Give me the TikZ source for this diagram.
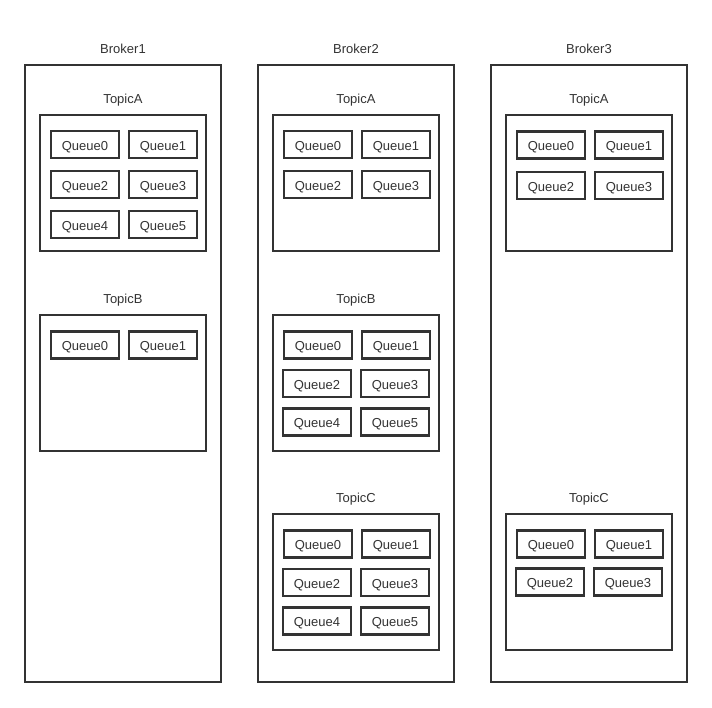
\documentclass[tikz,border=0pt]{standalone}
\usepackage{fontspec}
\setmainfont{Liberation Sans}
\definecolor{ink}{HTML}{333333}
\begin{document}
\begin{tikzpicture}[x=1pt,y=-1pt,
  every node/.style={font=\fontsize{13}{15}\selectfont, text=ink, text height=11pt, text depth=0pt},
  brokerbox/.style={draw=ink, line width=1.5pt, minimum width=196pt, minimum height=617pt, inner sep=0pt},
  topicbox/.style={draw=ink, line width=1.5pt, minimum width=166pt, minimum height=136pt, inner sep=0pt},
  queuebox/.style={draw=ink, line width=2.2pt, minimum width=68pt, minimum height=27pt, inner sep=0pt},
  caption/.style={inner sep=0pt}]
\useasboundingbox (0,0) rectangle (712,707);
\fill[white] (0,0) rectangle (712,707);

% Broker1: TopicA (6 queues), TopicB (2 queues)
\begin{scope}[xshift=25pt, name prefix=b1-]
  \node[caption] (label) at (98,47.5) {Broker1};
  \node[brokerbox] (box) at (98,373.5) {};
  \node[caption] (tA) at (98,97.5) {TopicA};
  \node[topicbox] (A) at (98,183) {};
  \node[queuebox] (A0) at (60,144.5) {Queue0};
  \node[queuebox] (A1) at (138,144.5) {Queue1};
  \node[queuebox] (A2) at (60,184.5) {Queue2};
  \node[queuebox] (A3) at (138,184.5) {Queue3};
  \node[queuebox] (A4) at (60,224.5) {Queue4};
  \node[queuebox] (A5) at (138,224.5) {Queue5};
  \node[caption] (tB) at (98,297.5) {TopicB};
  \node[topicbox] (B) at (98,383) {};
  \node[queuebox] (B0) at (60,345) {Queue0};
  \node[queuebox] (B1) at (138,345) {Queue1};
\end{scope}

% Broker2: TopicA (4 queues), TopicB (6 queues), TopicC (6 queues)
\begin{scope}[xshift=258pt, name prefix=b2-]
  \node[caption] (label) at (98,47.5) {Broker2};
  \node[brokerbox] (box) at (98,373.5) {};
  \node[caption] (tA) at (98,97.5) {TopicA};
  \node[topicbox] (A) at (98,183) {};
  \node[queuebox] (A0) at (60,144.5) {Queue0};
  \node[queuebox] (A1) at (138,144.5) {Queue1};
  \node[queuebox] (A2) at (60,184.5) {Queue2};
  \node[queuebox] (A3) at (138,184.5) {Queue3};
  \node[caption] (tB) at (98,297.5) {TopicB};
  \node[topicbox] (B) at (98,383) {};
  \node[queuebox] (B0) at (60,345) {Queue0};
  \node[queuebox] (B1) at (138,345) {Queue1};
  \node[queuebox] (B2) at (59,383.5) {Queue2};
  \node[queuebox] (B3) at (137,383.5) {Queue3};
  \node[queuebox] (B4) at (59,422) {Queue4};
  \node[queuebox] (B5) at (137,422) {Queue5};
  \node[caption] (tC) at (98,496.5) {TopicC};
  \node[topicbox] (C) at (98,582) {};
  \node[queuebox] (C0) at (60,544) {Queue0};
  \node[queuebox] (C1) at (138,544) {Queue1};
  \node[queuebox] (C2) at (59,582.5) {Queue2};
  \node[queuebox] (C3) at (137,582.5) {Queue3};
  \node[queuebox] (C4) at (59,621) {Queue4};
  \node[queuebox] (C5) at (137,621) {Queue5};
\end{scope}

% Broker3: TopicA (4 queues), TopicC (4 queues)
\begin{scope}[xshift=491pt, name prefix=b3-]
  \node[caption] (label) at (98,47.5) {Broker3};
  \node[brokerbox] (box) at (98,373.5) {};
  \node[caption] (tA) at (98,97.5) {TopicA};
  \node[topicbox] (A) at (98,183) {};
  \node[queuebox] (A0) at (60,145) {Queue0};
  \node[queuebox] (A1) at (138,145) {Queue1};
  \node[queuebox] (A2) at (60,185.5) {Queue2};
  \node[queuebox] (A3) at (138,185.5) {Queue3};
  \node[caption] (tC) at (98,496.5) {TopicC};
  \node[topicbox] (C) at (98,582) {};
  \node[queuebox] (C0) at (60,544) {Queue0};
  \node[queuebox] (C1) at (138,544) {Queue1};
  \node[queuebox] (C2) at (59,582) {Queue2};
  \node[queuebox] (C3) at (137,582) {Queue3};
\end{scope}
\end{tikzpicture}
\end{document}
